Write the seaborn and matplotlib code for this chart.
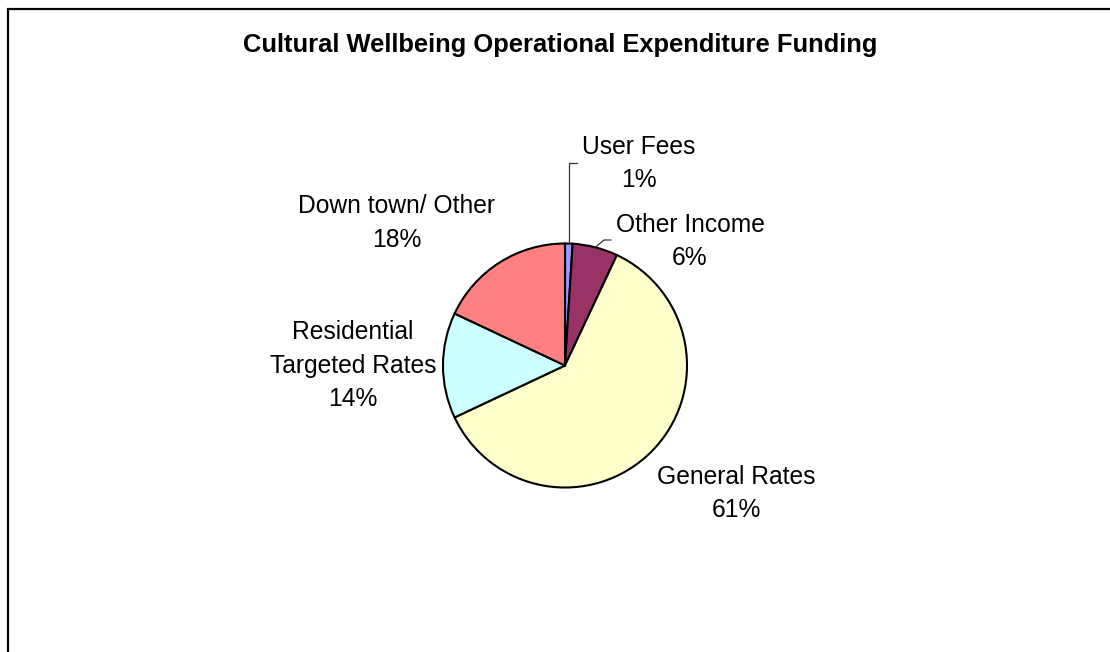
import numpy as np
import matplotlib
matplotlib.use("Agg")
import matplotlib.pyplot as plt
from matplotlib.patches import Rectangle
import seaborn as sns

# Funding sources, drawn clockwise from 12 o'clock
sources = ["User Fees", "Other Income", "General Rates",
           "Residential\nTargeted Rates", "Down town/ Other"]
shares = [1, 6, 61, 14, 18]
slice_colors = ["#9999FF", "#993366", "#FFFFCC", "#CCFFFF", "#FF8080"]
title = "Cultural Wellbeing Operational Expenditure Funding"

sns.set_theme(style="white")
plt.rcParams["font.family"] = ["Liberation Sans", "DejaVu Sans"]

W, H = 1110, 652
fig = plt.figure(figsize=(W / 100, H / 100), dpi=100)
fig.patch.set_facecolor("white")

# Pie placement (pixels)
cx, cy, r = 565, 365.5, 122
ax = fig.add_axes([(cx - r) / W, (H - cy - r) / H, 2 * r / W, 2 * r / H])
wedges, _ = ax.pie(shares, colors=slice_colors, startangle=90,
                   counterclock=False, radius=1,
                   wedgeprops=dict(edgecolor="black", linewidth=1.5))
ax.set_xlim(-1, 1)
ax.set_ylim(-1, 1)
ax.set_aspect("equal")
ax.axis("off")


def px(x, y):
    """Pixel position -> pie data coordinates."""
    return (x - cx) / r, (cy - y) / r


def rim(w):
    """Point on the rim at the middle of a wedge."""
    a = np.deg2rad((w.theta1 + w.theta2) / 2)
    return np.cos(a), np.sin(a)


# Leader lines for the two small slices
x0, y0 = rim(wedges[0])
_, ya = px(0, 163)
xb, _ = px(577, 163)
ax.plot([x0, x0, xb], [y0, ya, ya], color="#333333", lw=0.9, clip_on=False)

x1, y1 = rim(wedges[1])
xc, yc = px(604, 240)
xd, _ = px(611, 240)
ax.plot([x1, xc, xd], [y1, yc, yc], color="#333333", lw=0.9, clip_on=False)

# Category labels with percentages (x centre, last-line baseline in pixels)
label_pos = [(639, 187), (690, 265), (736, 517), (353, 406), (397, 247)]
for name, val, (lx, ly) in zip(sources, shares, label_pos):
    fig.text(lx / W, 1 - ly / H, f"{name}\n{val}%", ha="center",
             va="baseline", multialignment="center", fontsize=17.7,
             linespacing=1.5, color="black")

fig.text(560 / W, 1 - 52 / H, title, ha="center", va="baseline",
         fontsize=18.4, fontweight="bold", color="black")

# Chart area frame
fig.add_artist(Rectangle((7.5 / W, -0.1), 1.2, 1.1 - 8.5 / H,
                         transform=fig.transFigure, fill=False,
                         edgecolor="black", linewidth=1.6))

fig.savefig("out.png", dpi=100, facecolor="white")
